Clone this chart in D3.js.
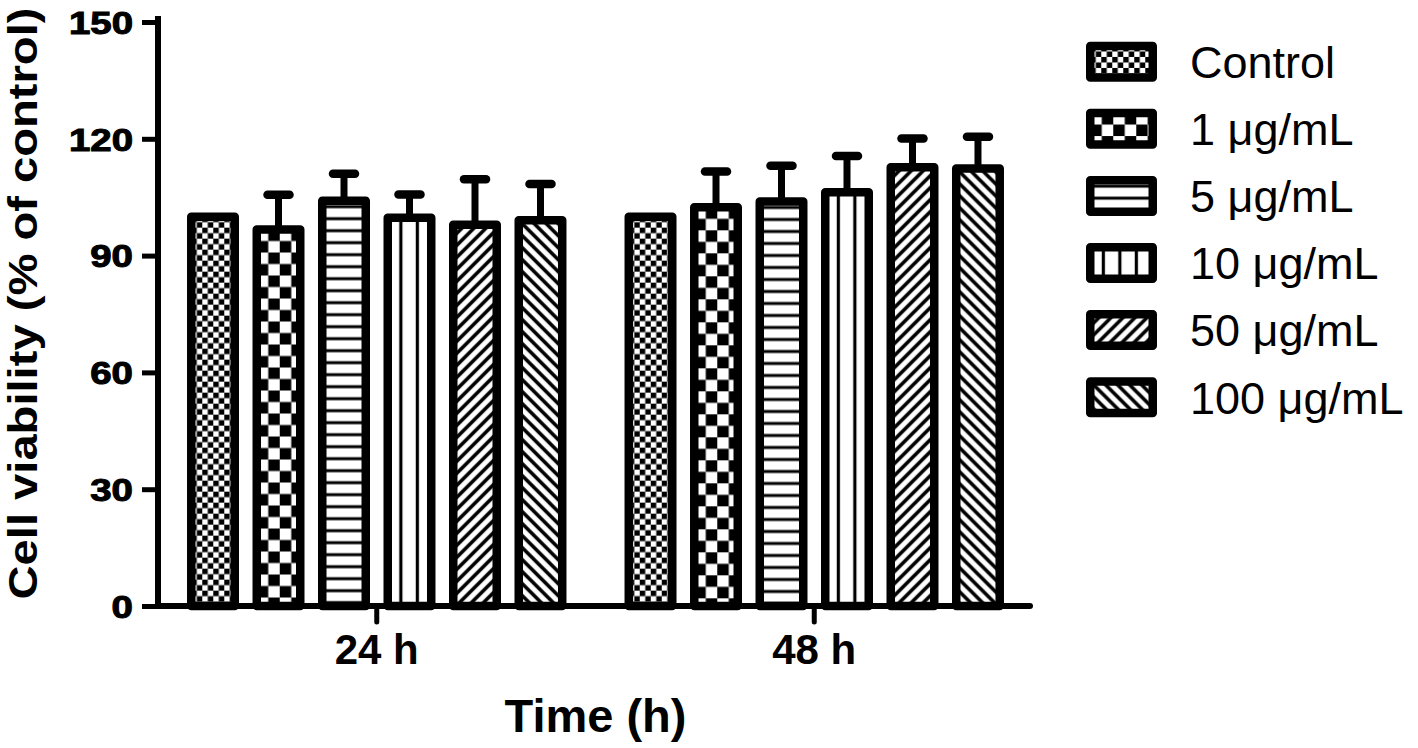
<!DOCTYPE html>
<html>
<head>
<meta charset="utf-8">
<script src="https://cdn.jsdelivr.net/npm/d3@7/dist/d3.min.js"></script>
<style>
  html, body { margin: 0; padding: 0; background: #fff; }
  svg { display: block; }
</style>
</head>
<body>
<svg id="chart" width="1418" height="748"></svg>
<script>
// ---- data ----
const groups = ["24 h", "48 h"];
const series = ["Control", "1 μg/mL", "5 μg/mL", "10 μg/mL", "50 μg/mL", "100 μg/mL"];
const mean24 = [100, 96.7, 104.1, 99.7, 97.9, 99.1];
const err24  = [0, 8.9, 6.9, 6.0, 11.7, 9.3];
const mean48 = [100, 102.4, 103.9, 106.3, 112.7, 112.4];
const err48  = [0, 9.2, 9.2, 9.3, 7.4, 8.1];
const yTicks = [0, 30, 60, 90, 120, 150];
const yTitle = "Cell viability (% of control)";
const xTitle = "Time (h)";

const data = [];
groups.forEach((g, gi) => {
  const m = gi === 0 ? mean24 : mean48;
  const e = gi === 0 ? err24 : err48;
  series.forEach((s, si) => data.push({group: g, series: s, si, mean: m[si], err: e[si]}));
});

// ---- layout ----
const FONT = "'Liberation Sans', Arial, Helvetica, sans-serif";
const svg = d3.select("#chart");
svg.append("rect").attr("width", 1418).attr("height", 748).attr("fill", "#fff");

const plotLeft = 158, plotRight = 1033, plotTop = 22, plotBottom = 606;
const SW = 8.5; // bar stroke

const x0 = d3.scaleBand().domain(groups).range([plotLeft, plotRight]).padding(0);
const x1 = d3.scaleBand().domain(series).range([0, x0.bandwidth()])
  .paddingInner(0.336).paddingOuter(0.508);
const y = d3.scaleLinear().domain([0, 150]).range([plotBottom, plotTop]);

const defs = svg.append("defs");

// pattern builders, anchored at (px, py)
function makePattern(id, si, px, py) {
  let p;
  const base = (w, h) => {
    p = defs.append("pattern").attr("id", id).attr("patternUnits", "userSpaceOnUse")
      .attr("x", px).attr("y", py).attr("width", w).attr("height", h);
    p.append("rect").attr("width", w).attr("height", h).attr("fill", "#fff");
    return p;
  };
  if (si === 0) {
    const c = 5.5; base(2 * c, 2 * c);
    p.append("rect").attr("x", 0).attr("y", 0).attr("width", c).attr("height", c).attr("fill", "#000");
    p.append("rect").attr("x", c).attr("y", c).attr("width", c).attr("height", c).attr("fill", "#000");
  } else if (si === 1) {
    const c = 11.5; base(2 * c, 2 * c);
    p.append("rect").attr("x", c).attr("y", 0).attr("width", c).attr("height", c).attr("fill", "#000");
    p.append("rect").attr("x", 0).attr("y", c).attr("width", c).attr("height", c).attr("fill", "#000");
  } else if (si === 2) {
    base(10, 12);
    p.append("rect").attr("x", 0).attr("y", 4.5).attr("width", 10).attr("height", 3).attr("fill", "#000");
  } else if (si === 3) {
    base(16.5, 10);
    p.append("rect").attr("x", 11.5).attr("y", 0).attr("width", 3.2).attr("height", 10).attr("fill", "#000");
  } else if (si === 4) {
    base(12, 12);
    p.append("path").attr("d", "M-3,3L3,-3M0,12L12,0M9,15L15,9")
      .attr("stroke", "#000").attr("stroke-width", 3.6);
  } else {
    base(12, 12);
    p.append("path").attr("d", "M-3,9L3,15M0,0L12,12M9,-3L15,3")
      .attr("stroke", "#000").attr("stroke-width", 3.6);
  }
  return "url(#" + id + ")";
}

// ---- bars ----
const barW = x1.bandwidth();
const gBars = svg.append("g");
data.forEach((d, i) => {
  const bx = x0(d.group) + x1(d.series);
  const by = y(d.mean);
  const fill = makePattern("pb" + i, d.si, bx, by);
  gBars.append("rect")
    .attr("x", bx).attr("y", by)
    .attr("width", barW).attr("height", y(0) - by)
    .attr("fill", fill)
    .attr("stroke", "#000").attr("stroke-width", SW)
    .attr("stroke-linejoin", "round");
});

// ---- error bars (upper only) ----
const gErr = svg.append("g");
data.filter(d => d.err > 0).forEach(d => {
  const cx = x0(d.group) + x1(d.series) + barW / 2;
  gErr.append("line")
    .attr("x1", cx).attr("x2", cx)
    .attr("y1", y(d.mean)).attr("y2", y(d.mean + d.err))
    .attr("stroke", "#000").attr("stroke-width", 7);
  gErr.append("line")
    .attr("x1", cx - 11).attr("x2", cx + 11)
    .attr("y1", y(d.mean + d.err)).attr("y2", y(d.mean + d.err))
    .attr("stroke", "#000").attr("stroke-width", 8.5).attr("stroke-linecap", "round");
});

// ---- y axis ----
const yAxis = d3.axisLeft(y).tickValues(yTicks).tickSize(16).tickSizeOuter(0).tickFormat(d3.format("d"));
const gy = svg.append("g").attr("transform", `translate(${plotLeft},0)`).call(yAxis);
gy.select(".domain").attr("d", `M0,${plotBottom}V${plotTop - 3}`)
  .attr("stroke", "#000").attr("stroke-width", 6).attr("stroke-linecap", "square");
gy.selectAll(".tick line").attr("stroke", "#000").attr("stroke-width", 5).attr("x2", -16);
gy.selectAll(".tick text")
  .attr("x", null).attr("dy", "0.36em")
  .attr("transform", "translate(-25,0) scale(1.22,1)")
  .attr("text-anchor", "end")
  .attr("font-family", FONT).attr("font-weight", "bold").attr("font-size", 31.5)
  .attr("fill", "#000").attr("stroke", "#000").attr("stroke-width", 1);
gy.attr("font-family", null).attr("font-size", null);

// ---- x axis ----
const xAxis = d3.axisBottom(x0).tickSize(17).tickSizeOuter(0);
const gx = svg.append("g").attr("transform", `translate(0,${plotBottom})`).call(xAxis);
gx.select(".domain").attr("d", `M${plotLeft},0H${plotRight - 3}`)
  .attr("stroke", "#000").attr("stroke-width", 6).attr("stroke-linecap", "round");
gx.selectAll(".tick line").attr("stroke", "#000").attr("stroke-width", 5).attr("stroke-linecap", "round").attr("y2", 16);
gx.selectAll(".tick text")
  .attr("y", 58).attr("dy", 0)
  .attr("font-family", FONT).attr("font-weight", "bold").attr("font-size", 42).attr("fill", "#000");
gx.attr("font-family", null).attr("font-size", null);

// ---- titles ----
svg.append("text")
  .attr("transform", `translate(37,303.5) rotate(-90) scale(1.15,1)`)
  .attr("text-anchor", "middle")
  .attr("font-family", FONT).attr("font-weight", "bold").attr("font-size", 41).attr("fill", "#000")
  .text(yTitle);

svg.append("text")
  .attr("x", (plotLeft + plotRight) / 2).attr("y", 732)
  .attr("text-anchor", "middle")
  .attr("font-family", FONT).attr("font-weight", "bold").attr("font-size", 47).attr("fill", "#000")
  .text(xTitle);

// ---- legend ----
const legX = 1090.25, legTop = 61.7, legStep = 67.1, legW = 62.5, legH = 31.5;
const gLeg = svg.append("g");
series.forEach((s, si) => {
  const cy = legTop + si * legStep;
  const rx = legX, ry = cy - legH / 2;
  const fill = makePattern("pl" + si, si, rx, ry);
  gLeg.append("rect")
    .attr("x", rx).attr("y", ry).attr("width", legW).attr("height", legH)
    .attr("fill", fill).attr("stroke", "#000").attr("stroke-width", SW)
    .attr("stroke-linejoin", "round");
  gLeg.append("text")
    .attr("x", 1190).attr("y", cy + 16.3)
    .attr("font-family", FONT).attr("font-size", 45).attr("fill", "#000")
    .text(s);
});
</script>
</body>
</html>
